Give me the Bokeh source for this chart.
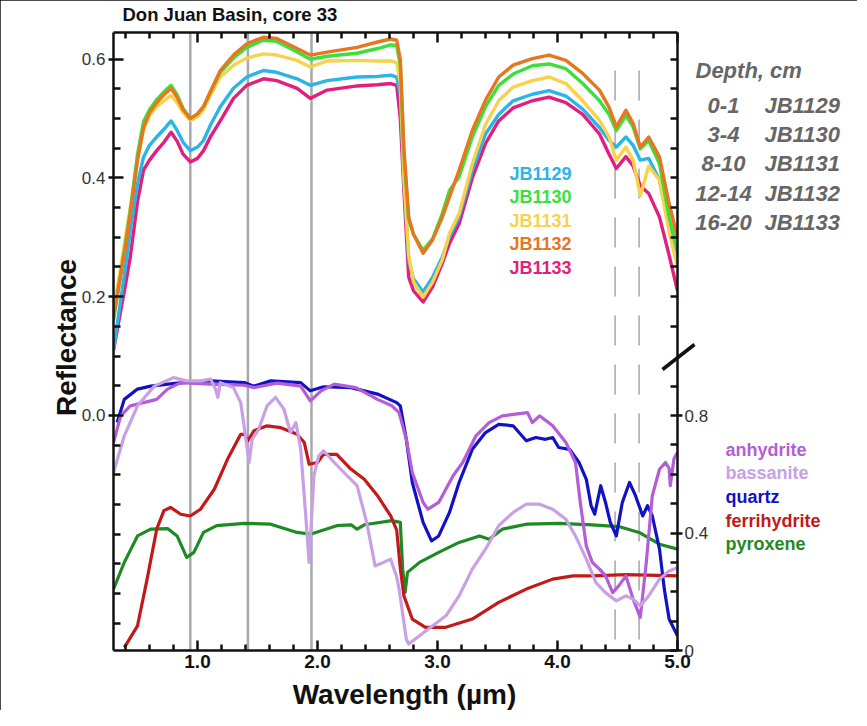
import math
from bokeh.plotting import figure
from bokeh.models import (Range1d, LinearAxis, FixedTicker, PrintfTickFormatter)
from bokeh.core.properties import value
from bokeh.embed import file_html
from bokeh.resources import INLINE

# ---------------- data ----------------
title_text = "Don Juan Basin, core 33"
x_label = "Wavelength (\u00b5m)"
y_label = "Reflectance"
sample_ids = ["JB1129", "JB1130", "JB1131", "JB1132", "JB1133"]
depths = ["0-1", "3-4", "8-10", "12-14", "16-20"]
sample_colors = ["#2ab4e8", "#3ce03c", "#f7d24a", "#e8751f", "#e21f7d"]

wl = [0.30, 0.40, 0.44, 0.50, 0.55, 0.60, 0.66, 0.72, 0.78, 0.83, 0.88, 0.94, 1.00, 1.05,
      1.11, 1.19, 1.30, 1.41, 1.55, 1.66, 1.83, 1.94, 2.08, 2.33, 2.50, 2.61, 2.66, 2.69,
      2.72, 2.76, 2.80, 2.88, 2.96, 3.04, 3.10, 3.18, 3.29, 3.40, 3.51, 3.63, 3.79, 3.93,
      4.07, 4.21, 4.35, 4.43, 4.49, 4.57, 4.63, 4.69, 4.76, 4.85, 4.93, 5.00]

jb1129 = [0.11, 0.25, 0.312, 0.39, 0.435, 0.455, 0.469, 0.482, 0.496, 0.48, 0.46, 0.446, 0.452, 0.463,
          0.49, 0.52, 0.551, 0.57, 0.581, 0.578, 0.567, 0.556, 0.564, 0.57, 0.571, 0.573, 0.57, 0.54,
          0.40, 0.26, 0.23, 0.208, 0.233, 0.267, 0.301, 0.334, 0.413, 0.474, 0.507, 0.53, 0.541, 0.547,
          0.538, 0.516, 0.485, 0.463, 0.452, 0.469, 0.455, 0.43, 0.433, 0.396, 0.32, 0.26]
jb1130 = [0.16, 0.29, 0.345, 0.44, 0.495, 0.515, 0.532, 0.545, 0.556, 0.54, 0.517, 0.50, 0.508, 0.52,
          0.545, 0.578, 0.602, 0.62, 0.632, 0.63, 0.612, 0.60, 0.605, 0.61, 0.618, 0.624, 0.623, 0.59,
          0.44, 0.33, 0.305, 0.278, 0.298, 0.34, 0.379, 0.402, 0.469, 0.52, 0.556, 0.575, 0.589, 0.592,
          0.584, 0.559, 0.53, 0.507, 0.48, 0.505, 0.486, 0.449, 0.463, 0.424, 0.334, 0.278]
jb1131 = [0.175, 0.30, 0.35, 0.43, 0.48, 0.505, 0.52, 0.53, 0.539, 0.527, 0.51, 0.497, 0.503, 0.515,
          0.54, 0.57, 0.59, 0.602, 0.609, 0.607, 0.598, 0.587, 0.597, 0.598, 0.597, 0.597, 0.594, 0.56,
          0.40, 0.27, 0.225, 0.199, 0.225, 0.262, 0.307, 0.34, 0.424, 0.49, 0.53, 0.553, 0.564, 0.57,
          0.559, 0.53, 0.497, 0.469, 0.43, 0.452, 0.43, 0.37, 0.42, 0.396, 0.31, 0.25]
jb1132 = [0.165, 0.284, 0.34, 0.43, 0.485, 0.51, 0.527, 0.54, 0.551, 0.536, 0.515, 0.50, 0.508, 0.52,
          0.547, 0.581, 0.607, 0.626, 0.637, 0.635, 0.618, 0.607, 0.612, 0.62, 0.629, 0.634, 0.632, 0.60,
          0.45, 0.334, 0.305, 0.273, 0.296, 0.334, 0.368, 0.413, 0.48, 0.531, 0.57, 0.59, 0.601, 0.607,
          0.598, 0.576, 0.548, 0.519, 0.486, 0.514, 0.492, 0.452, 0.469, 0.435, 0.357, 0.30]
jb1133 = [0.11, 0.22, 0.267, 0.36, 0.413, 0.43, 0.446, 0.46, 0.477, 0.462, 0.44, 0.427, 0.433, 0.446,
          0.47, 0.496, 0.534, 0.556, 0.567, 0.564, 0.551, 0.534, 0.548, 0.555, 0.557, 0.559, 0.556, 0.50,
          0.38, 0.233, 0.21, 0.191, 0.217, 0.256, 0.29, 0.323, 0.40, 0.458, 0.496, 0.518, 0.53, 0.536,
          0.527, 0.507, 0.474, 0.44, 0.416, 0.436, 0.42, 0.387, 0.374, 0.334, 0.27, 0.21]
sample_series = [jb1129, jb1130, jb1131, jb1132, jb1133]

minerals = ["anhydrite", "bassanite", "quartz", "ferrihydrite", "pyroxene"]
mineral_colors = ["#b35ed6", "#c8a0e6", "#1212c4", "#c21a1a", "#1f8a24"]

anhydrite_x = [0.30, 0.36, 0.44, 0.55, 0.66, 0.75, 0.86, 1.11, 1.39, 1.47, 1.66, 1.86, 1.94, 2.03,
               2.14, 2.32, 2.50, 2.62, 2.68, 2.74, 2.79, 2.88, 2.92, 3.01, 3.13, 3.21, 3.32, 3.43,
               3.54, 3.65, 3.75, 3.79, 3.85, 3.96, 4.07, 4.15, 4.19, 4.24, 4.29, 4.35, 4.40, 4.46,
               4.51, 4.57, 4.63, 4.69, 4.74, 4.79, 4.85, 4.90, 4.93, 4.94, 4.97, 5.00]
anhydrite_y = [0.708, 0.799, 0.833, 0.844, 0.855, 0.89, 0.912, 0.907, 0.903, 0.895, 0.91, 0.90, 0.85,
               0.884, 0.907, 0.895, 0.855, 0.833, 0.81, 0.719, 0.606, 0.504, 0.481, 0.504, 0.595,
               0.640, 0.731, 0.776, 0.799, 0.805, 0.81, 0.776, 0.799, 0.765, 0.708, 0.640, 0.504,
               0.356, 0.30, 0.277, 0.254, 0.197, 0.220, 0.254, 0.175, 0.113, 0.30, 0.527, 0.617,
               0.640, 0.62, 0.561, 0.652, 0.675]

bassanite_x = [0.30, 0.39, 0.50, 0.64, 0.80, 0.91, 1.03, 1.11, 1.15, 1.17, 1.19, 1.30, 1.36, 1.40,
               1.43, 1.455, 1.51, 1.58, 1.65, 1.72, 1.775, 1.82, 1.86, 1.90, 1.93, 1.97, 2.01, 2.05,
               2.14, 2.22, 2.33, 2.41, 2.48, 2.55, 2.61, 2.66, 2.68, 2.74, 2.76, 2.85, 2.96, 3.07,
               3.18, 3.29, 3.40, 3.51, 3.63, 3.74, 3.85, 3.96, 4.07, 4.15, 4.24, 4.32, 4.40, 4.49,
               4.57, 4.63, 4.69, 4.76, 4.85, 4.93, 5.00]
bassanite_y = [0.606, 0.731, 0.833, 0.90, 0.929, 0.918, 0.918, 0.924, 0.89, 0.862, 0.912, 0.895,
               0.844, 0.731, 0.640, 0.719, 0.753, 0.833, 0.862, 0.822, 0.742, 0.776, 0.685, 0.470,
               0.30, 0.595, 0.663, 0.680, 0.640, 0.606, 0.561, 0.436, 0.288, 0.30, 0.311, 0.25,
               0.21, 0.039, 0.022, 0.05, 0.084, 0.118, 0.186, 0.277, 0.345, 0.425, 0.470, 0.498,
               0.498, 0.481, 0.447, 0.390, 0.311, 0.231, 0.197, 0.169, 0.186, 0.175, 0.152, 0.186,
               0.243, 0.271, 0.282]

quartz_x = [0.33, 0.39, 0.50, 0.61, 0.83, 1.11, 1.39, 1.47, 1.61, 1.86, 1.94, 2.05, 2.28, 2.50,
            2.66, 2.69, 2.74, 2.79, 2.88, 2.95, 3.01, 3.10, 3.18, 3.29, 3.40, 3.51, 3.63, 3.74,
            3.82, 3.90, 3.96, 4.01, 4.10, 4.18, 4.24, 4.28, 4.31, 4.36, 4.40, 4.44, 4.49, 4.54,
            4.60, 4.65, 4.71, 4.75, 4.79, 4.85, 4.89, 4.93, 5.00]
quartz_y = [0.776, 0.855, 0.89, 0.90, 0.91, 0.918, 0.912, 0.90, 0.918, 0.912, 0.884, 0.898, 0.895,
            0.873, 0.844, 0.833, 0.719, 0.572, 0.436, 0.373, 0.39, 0.47, 0.572, 0.685, 0.742, 0.77,
            0.765, 0.714, 0.725, 0.719, 0.725, 0.691, 0.685, 0.64, 0.583, 0.493, 0.464, 0.561,
            0.504, 0.436, 0.39, 0.504, 0.572, 0.527, 0.458, 0.493, 0.458, 0.345, 0.209, 0.107, 0.05]

ferrihydrite_x = [0.39, 0.50, 0.58, 0.66, 0.72, 0.775, 0.86, 0.94, 1.025, 1.14, 1.25, 1.36, 1.39,
                  1.42, 1.47, 1.58, 1.69, 1.83, 1.89, 1.93, 2.00, 2.05, 2.16, 2.28, 2.39, 2.50,
                  2.61, 2.66, 2.69, 2.72, 2.79, 2.90, 3.07, 3.29, 3.51, 3.74, 3.96, 4.13, 4.29,
                  4.57, 5.00]
ferrihydrite_y = [0.01, 0.084, 0.243, 0.413, 0.476, 0.487, 0.464, 0.458, 0.481, 0.549, 0.651, 0.736,
                  0.736, 0.714, 0.748, 0.765, 0.759, 0.736, 0.708, 0.634, 0.640, 0.668, 0.668, 0.617,
                  0.583, 0.527, 0.458, 0.41, 0.28, 0.186, 0.107, 0.079, 0.079, 0.107, 0.164, 0.209,
                  0.243, 0.254, 0.254, 0.258, 0.254]

pyroxene_x = [0.30, 0.39, 0.50, 0.61, 0.75, 0.83, 0.91, 0.97, 1.05, 1.16, 1.39, 1.61, 1.83, 1.94,
              2.16, 2.28, 2.33, 2.39, 2.62, 2.69, 2.71, 2.73, 2.75, 2.85, 3.01, 3.18, 3.35, 3.43,
              3.54, 3.74, 4.01, 4.29, 4.51, 4.68, 4.85, 5.00]
pyroxene_y = [0.209, 0.30, 0.390, 0.413, 0.415, 0.390, 0.317, 0.334, 0.402, 0.425, 0.433, 0.430,
              0.402, 0.396, 0.425, 0.428, 0.413, 0.428, 0.442, 0.436, 0.277, 0.198, 0.266, 0.30,
              0.334, 0.368, 0.390, 0.379, 0.413, 0.430, 0.433, 0.428, 0.422, 0.402, 0.362, 0.345]

mineral_x = [anhydrite_x, bassanite_x, quartz_x, ferrihydrite_x, pyroxene_x]
mineral_y = [anhydrite_y, bassanite_y, quartz_y, ferrihydrite_y, pyroxene_y]

band_lines = [0.94, 1.42, 1.95]
dashed_bands = [4.48, 4.68]

x_major = [1.0, 2.0, 3.0, 4.0, 5.0]
x_minor = [0.4, 0.6, 0.8, 1.2, 1.4, 1.6, 1.8, 2.2, 2.4, 2.6, 2.8, 3.2, 3.4, 3.6, 3.8,
           4.2, 4.4, 4.6, 4.8]
left_major = [0.0, 0.2, 0.4, 0.6]
left_minor = [-0.35, -0.3, -0.25, -0.2, -0.15, -0.1, -0.05, 0.05, 0.1, 0.15, 0.25, 0.3,
              0.35, 0.45, 0.5, 0.55]
right_major = [0.0, 0.4, 0.8]
right_minor = [0.1, 0.2, 0.3, 0.5, 0.6, 0.7, 0.9]
upper_right_ticks = [0.15, 0.2, 0.25, 0.3, 0.35, 0.4, 0.45, 0.5, 0.55, 0.6]

# ---------------- layout ----------------
X0, X1 = 0.3, 5.0
L0, L1 = -0.396, 0.645
R0, R1 = 0.0, 2.104
FL, FR, FT, FB = 121, 685, 40, 658   # frame edges in page pixels
OX, OY = 8, 8
W, H = 857, 710

def px_x(px):
    return X0 + (px - FL) * (X1 - X0) / (FR - FL)

def px_y(py):
    return L1 - (py - FT) * (L1 - L0) / (FB - FT)

def left_to_right(v):
    return R0 + (v - L0) / (L1 - L0) * (R1 - R0)

FONT = "Liberation Sans"

p = figure(width=W, height=H, output_backend="svg", toolbar_location=None,
           x_range=Range1d(X0, X1), y_range=Range1d(L0, L1),
           x_axis_location=None, y_axis_location=None,
           min_border_left=FL - OX, min_border_right=OX + W - FR,
           min_border_top=FT - OY, min_border_bottom=OY + H - FB)
p.extra_y_ranges = {"min": Range1d(R0, R1)}
p.grid.visible = False
p.outline_line_color = None
p.background_fill_color = "white"
p.border_fill_color = "white"
p.styles = {"outline": "2px solid #111", "outline-offset": "-2px"}

def style_axis(ax, tin, tout, minin, lw=2.5):
    ax.axis_line_width = lw
    ax.axis_line_color = "#111"
    ax.major_tick_line_width = lw
    ax.minor_tick_line_width = lw
    ax.major_tick_line_color = "#111"
    ax.minor_tick_line_color = "#111"
    ax.major_tick_in = tin
    ax.major_tick_out = tout
    ax.minor_tick_in = minin
    ax.minor_tick_out = 0

bottom = LinearAxis(ticker=FixedTicker(ticks=x_major, minor_ticks=x_minor),
                    formatter=PrintfTickFormatter(format="%.1f"))
style_axis(bottom, 10, 0, 6)
bottom.major_label_text_font = FONT
bottom.major_label_text_font_style = "bold"
bottom.major_label_text_font_size = "19px"
bottom.major_label_text_color = "#111"
bottom.major_label_standoff = 4
p.add_layout(bottom, "below")

top = LinearAxis(ticker=FixedTicker(ticks=x_major, minor_ticks=x_minor),
                 major_label_overrides={t: "" for t in x_major})
style_axis(top, 10, 0, 6)
top.major_label_standoff = 0
top.major_label_text_font_size = "1px"
p.add_layout(top, "above")

left = LinearAxis(ticker=FixedTicker(ticks=left_major, minor_ticks=left_minor),
                  formatter=PrintfTickFormatter(format="%.1f"))
style_axis(left, 10, 5, 7)
left.major_label_text_font = FONT
left.major_label_text_font_size = "17px"
left.major_label_text_color = "#333"
left.major_label_standoff = 3
p.add_layout(left, "left")

right = LinearAxis(y_range_name="min",
                   ticker=FixedTicker(ticks=right_major,
                                      minor_ticks=right_minor + [left_to_right(v) for v in upper_right_ticks]),
                   major_label_overrides={0.0: "0", 0.4: "0.4", 0.8: "0.8"})
style_axis(right, 7, 5, 7)
right.major_label_text_font = FONT
right.major_label_text_font_size = "17px"
right.major_label_text_color = "#333"
right.major_label_standoff = 2
p.add_layout(right, "right")

# reference band lines
p.segment(x0=band_lines, x1=band_lines, y0=[L0] * len(band_lines), y1=[L1] * len(band_lines),
          line_color="#a8a8a8", line_width=2.5)
p.segment(x0=dashed_bands, x1=dashed_bands, y0=[px_y(647)] * 2, y1=[px_y(60)] * 2,
          line_color="#b4b4b4", line_width=1.8, line_dash="30 19")

# mineral spectra (right axis)
for i in [4, 3, 2, 0, 1]:
    p.line(mineral_x[i], mineral_y[i], y_range_name="min", line_color=mineral_colors[i],
           line_width=3.2, line_join="round")

# sample spectra (left axis)
for i in [4, 0, 2, 1, 3]:
    p.line(wl, sample_series[i], line_color=sample_colors[i], line_width=3.4, line_join="round")

# axis break mark
p.line(x=[px_x(670), px_x(702)], y=[px_y(377), px_y(352)], line_color="#111",
       line_width=3.5, level="overlay")

def add_texts(texts, pxs, pys, size, colors, style="bold", align="left", angle=0.0):
    p.text(x=[px_x(v) for v in pxs], y=[px_y(v) for v in pys], text=texts,
           text_color=colors, text_font=value(FONT), text_font_size=value(size),
           text_font_style=style, text_align=align, text_baseline="middle",
           angle=angle, level="overlay")

add_texts([title_text], [130], [22], "18.5px", ["#111"])
add_texts([y_label], [74], [345], "28px", ["#111"], align="center", angle=math.pi / 2)
add_texts([x_label], [412], [702], "28px", ["#111"], align="center")

n = len(sample_ids)
add_texts(sample_ids, [517] * n, [181 + 23.5 * i for i in range(n)], "18px", sample_colors)
add_texts(["Depth, cm"], [703], [78], "22px", ["#666"], style="bold italic")
add_texts(depths, [731] * n, [113 + 29.2 * i for i in range(n)], "22px", ["#666"] * n,
          style="bold italic", align="center")
add_texts(sample_ids, [772] * n, [113 + 29.2 * i for i in range(n)], "22px", ["#666"] * n,
          style="bold italic")
m = len(minerals)
add_texts(minerals, [733] * m, [457 + 23.7 * i for i in range(m)], "18px", mineral_colors)

open("out.html", "w").write(file_html(p, INLINE))
